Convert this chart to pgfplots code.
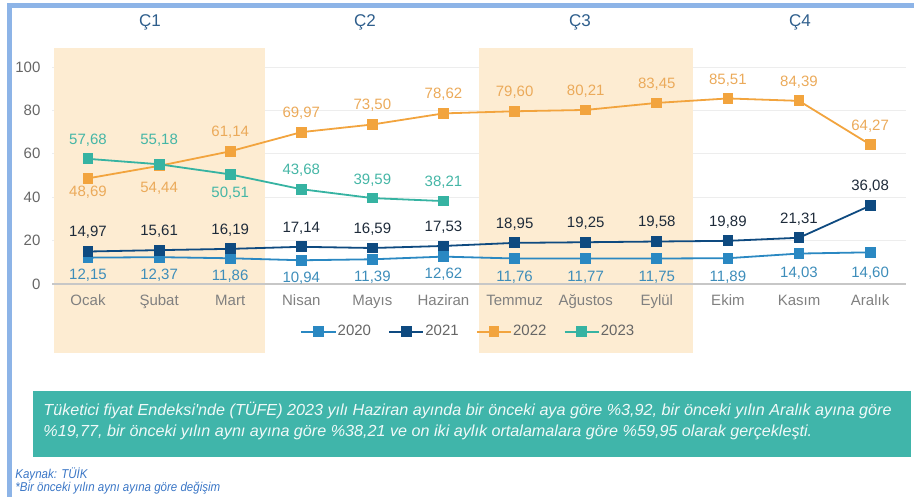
\documentclass[border=0pt]{standalone}
\usepackage{pgfplots}
\pgfplotsset{compat=1.18}
\usepackage{pgfplotstable}
\usepackage{fontspec}
\setmainfont{Liberation Sans}
\newfontfamily\cond[FakeStretch=1.01]{Liberation Sans}
\newfontfamily\condf[FakeStretch=0.9]{Liberation Sans}
\definecolor{cA}{HTML}{2A88C2}
\definecolor{cB}{HTML}{0E4A80}
\definecolor{cC}{HTML}{F2A43E}
\definecolor{cD}{HTML}{36B3A2}
\definecolor{lA}{HTML}{3D8DBA}
\definecolor{lB}{HTML}{1E2B3A}
\definecolor{lC}{HTML}{EBAA5A}
\definecolor{lD}{HTML}{45B6A6}
\definecolor{qshade}{HTML}{FDECD2}
\definecolor{tealbox}{HTML}{40B5AA}
\definecolor{bordercol}{HTML}{8DB4E7}
\definecolor{qcol}{HTML}{2E5E8C}
\definecolor{foot}{HTML}{3A76C6}
\definecolor{mcol}{HTML}{808080}

\pgfplotstableread{
x y d
0 12.15 18
1 12.37 18
2 11.86 18
3 10.94 18
4 11.39 18
5 12.62 18
6 11.76 19
7 11.77 19
8 11.75 19
9 11.89 19
10 14.03 20
11 14.60 21
}\tA
\pgfplotstableread{
x y d
0 14.97 -19
1 15.61 -19
2 16.19 -19
3 17.14 -19
4 16.59 -19
5 17.53 -19
6 18.95 -19
7 19.25 -19
8 19.58 -19
9 19.89 -19
10 21.31 -19
11 36.08 -19
}\tB
\pgfplotstableread{
x y d
0 48.69 14
1 54.44 22
2 61.14 -19
3 69.97 -19
4 73.50 -19
5 78.62 -19
6 79.60 -19
7 80.21 -19
8 83.45 -19
9 85.51 -18
10 84.39 -19
11 64.27 -18
}\tC
\pgfplotstableread{
x y d
0 57.68 -19
1 55.18 -24
2 50.51 19
3 43.68 -19
4 39.59 -18
5 38.21 -19
}\tD

\pgfplotsset{
  lbl/.style={
    nodes near coords={\pgfmathprintnumber[fixed,fixed zerofill,precision=2,use comma]{\pgfplotspointmeta}},
    visualization depends on={\thisrow{d} \as \dy},
    every node near coord/.append style={anchor=center, yshift={-1*(\dy)*0.5pt}, font=\fontsize{7.5}{9}\selectfont, text=#1},
  },
}
\tikzset{
  mlab/.style={anchor=base, text=mcol, font=\fontsize{7.5}{9}\selectfont, inner sep=0pt},
  qlab/.style={text=qcol, font=\fontsize{8.5}{10}\selectfont},
}

\begin{document}
\begin{tikzpicture}
\begin{axis}[
  scale only axis,
  width=426.6pt, height=108.5pt,
  xmin=-0.5, xmax=11.5, ymin=0, ymax=100,
  clip=false,
  axis line style={draw=none},
  major tick length=0pt,
  xtick=\empty,
  ytick={0,20,...,100},
  ymajorgrids,
  grid style={draw=black!7, line width=0.5pt},
  /pgf/number format/assume math mode=true,
  tick label style={font=\fontsize{7.5}{9}\selectfont},
  yticklabel style={text=black!60, xshift=-2.5pt},
  legend style={at={(0.487,-0.22)}, anchor=center, draw=none, fill=none,
    legend columns=4, font=\fontsize{7.5}{9}\selectfont, text=black!60,
    nodes={inner sep=0.6pt},
    /tikz/every even column/.append style={column sep=8pt}},
  every axis plot/.append style={line width=0.9pt, mark=square*, mark size=2.25pt},
]
% shaded quarters
\fill[qshade] (axis cs:-0.478,-31.8) rectangle (axis cs:2.489,108.76);
\fill[qshade] (axis cs:5.499,-31.8) rectangle (axis cs:8.509,108.76);
% zero line
\draw[black!22, line width=0.6pt] (axis cs:-0.5,0) -- (axis cs:11.5,0);
% month labels
\node[mlab] at (axis cs:0,-10.1) {Ocak};
\node[mlab] at (axis cs:1,-10.1) {Şubat};
\node[mlab] at (axis cs:2,-10.1) {Mart};
\node[mlab] at (axis cs:3,-10.1) {Nisan};
\node[mlab] at (axis cs:4,-10.1) {Mayıs};
\node[mlab] at (axis cs:5,-10.1) {Haziran};
\node[mlab] at (axis cs:6,-10.1) {Temmuz};
\node[mlab] at (axis cs:7,-10.1) {Ağustos};
\node[mlab] at (axis cs:8,-10.1) {Eylül};
\node[mlab] at (axis cs:9,-10.1) {Ekim};
\node[mlab] at (axis cs:10,-10.1) {Kasım};
\node[mlab] at (axis cs:11,-10.1) {Aralık};
% border
\draw[bordercol, line width=2.5pt] (axis cs:-1.1111,-100) -- (axis cs:-1.1111,128.57) -- (axis cs:12,128.57);
% quarter labels
\node[qlab] at (axis cs:0.872,120.74) {Ç1};
\node[qlab] at (axis cs:3.896,120.74) {Ç2};
\node[qlab] at (axis cs:6.92,120.74) {Ç3};
\node[qlab] at (axis cs:10.014,120.74) {Ç4};
% teal box
\fill[tealbox] (axis cs:-0.7736,-49.31) rectangle (axis cs:11.575,-79.72);
\node[anchor=base west, inner sep=0pt, text=white!92!tealbox, font=\cond\itshape\fontsize{8}{10}\selectfont]
  at (axis cs:-0.6329,-60.6) {Tüketici fiyat Endeksi'nde (TÜFE) 2023 yılı Haziran ayında bir önceki aya göre \%3,92, bir önceki yılın Aralık ayına göre};
\node[anchor=base west, inner sep=0pt, text=white!92!tealbox, font=\cond\itshape\fontsize{8}{10}\selectfont]
  at (axis cs:-0.6329,-70.28) {\%19,77, bir önceki yılın aynı ayına göre \%38,21 ve on iki aylık ortalamalara göre \%59,95 olarak gerçekleşti.};
% footer
\node[anchor=base west, inner sep=0pt, text=foot, font=\condf\itshape\fontsize{6.4}{8}\selectfont]
  at (axis cs:-1.0267,-89.4) {Kaynak: TÜİK};
\node[anchor=base west, inner sep=0pt, text=foot, font=\condf\itshape\fontsize{6.4}{8}\selectfont]
  at (axis cs:-1.0267,-95.85) {*Bir önceki yılın aynı ayına göre değişim};

\addplot[cA, lbl=lA] table[x=x,y=y] {\tA};
\addlegendentry{2020}
\addplot[cB, lbl=lB] table[x=x,y=y] {\tB};
\addlegendentry{2021}
\addplot[cC, lbl=lC] table[x=x,y=y] {\tC};
\addlegendentry{2022}
\addplot[cD, lbl=lD] table[x=x,y=y] {\tD};
\addlegendentry{2023}

\coordinate (TL) at (axis cs:-1.2377,130.88);
\coordinate (BR) at (axis cs:11.6174,-98.157);
\end{axis}
\pgfresetboundingbox
\path (TL) rectangle (BR);
\end{tikzpicture}
\end{document}
